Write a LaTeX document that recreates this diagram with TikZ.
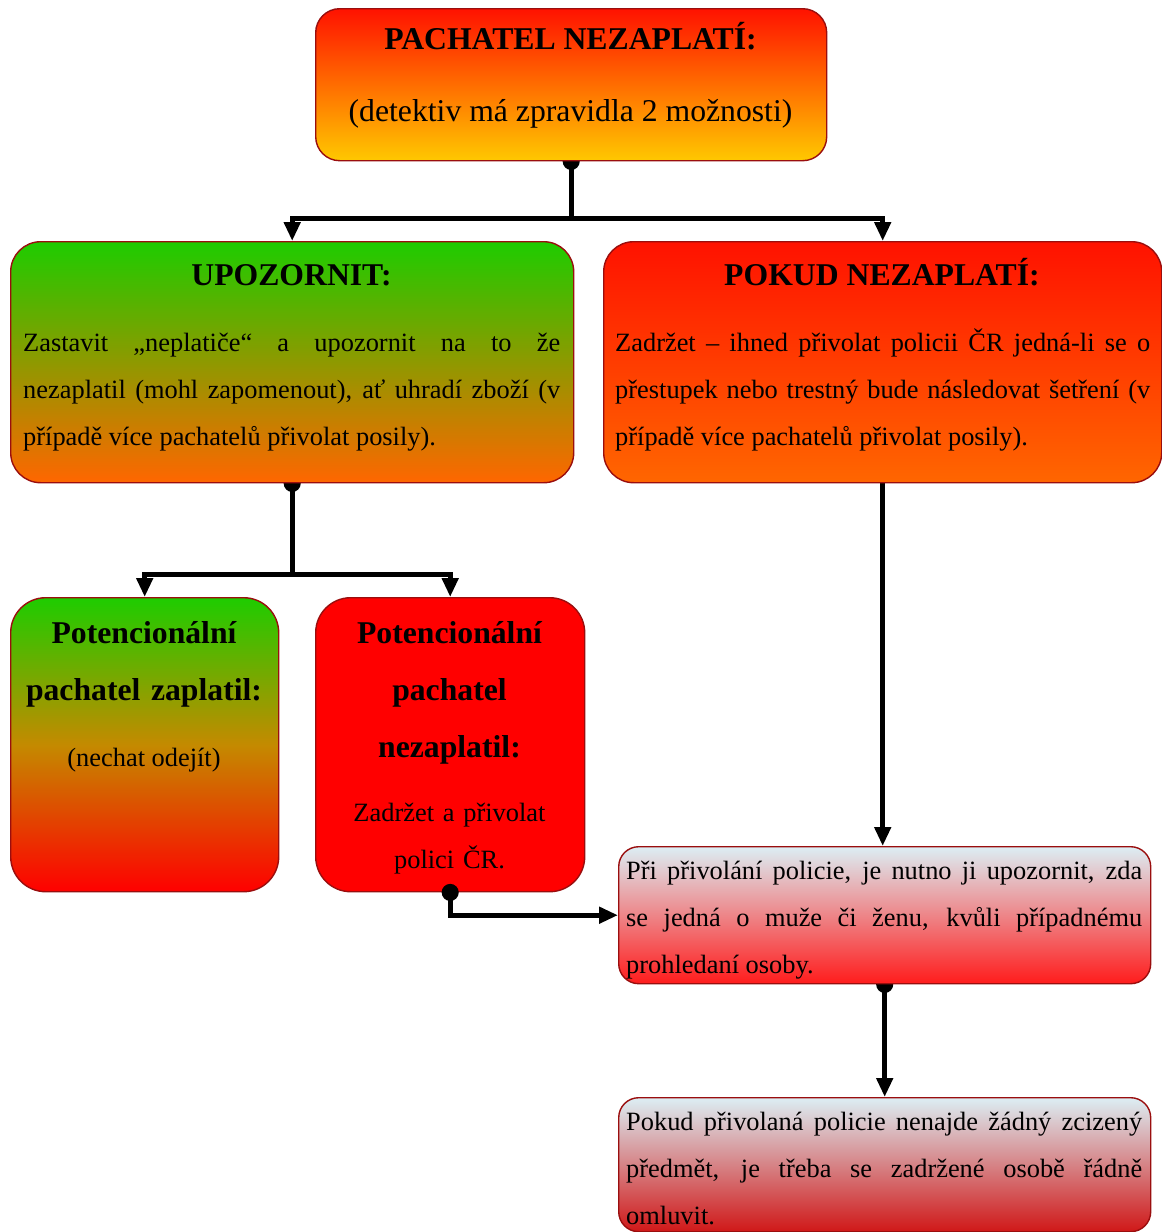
\documentclass[tikz,border=0pt]{standalone}
\usepackage{fontspec}
\setmainfont{Liberation Serif}
\usetikzlibrary{arrows.meta,calc}

\definecolor{boxline}{HTML}{9A0E0E}
\definecolor{hotred}{HTML}{FF1200}
\definecolor{amber}{HTML}{FFC800}
\definecolor{leaf}{HTML}{1ECC00}
\definecolor{tangerine}{HTML}{FF6600}
\definecolor{ochre}{HTML}{C48A00}
\definecolor{frost}{HTML}{DCEEF4}
\definecolor{alarm}{HTML}{FF1C1C}
\definecolor{darkalarm}{HTML}{D01818}

\pgfdeclarelayer{background}
\pgfsetlayers{background,main}

\tikzset{
  stepbox/.style={draw=boxline, line width=1.4pt, anchor=north west, inner sep=0pt},
  headtext/.style={font=\fontsize{31.7}{57}\selectfont\bfseries, inner sep=0pt, anchor=base, align=center},
  plaintext/.style={font=\fontsize{26.4}{47}\selectfont, inner sep=0pt},
  conn/.style={line width=5pt, arrows={-Triangle[width=16pt,length=19pt]}},
  dotconn/.style={line width=5pt, arrows={Circle[length=17pt]-Triangle[width=16pt,length=19pt]}, shorten <=-8.5pt},
}

\begin{document}
\begin{tikzpicture}[x=1pt, y=-1pt]
\useasboundingbox (0,0) rectangle (1162,1232);

% boxes
\node[stepbox, rounded corners=24pt, top color=hotred, bottom color=amber,
      minimum width=511pt, minimum height=152pt] (top) at (315,8) {};
\node[stepbox, rounded corners=30pt, top color=leaf, bottom color=tangerine,
      minimum width=563pt, minimum height=241pt] (upoz) at (10,241) {};
\node[stepbox, rounded corners=30pt, top color=hotred, bottom color=tangerine,
      minimum width=558pt, minimum height=241pt] (pokud) at (603,241) {};
\node[stepbox, rounded corners=35pt, top color=leaf, bottom color=red, middle color=ochre,
      minimum width=268pt, minimum height=294pt] (zapl) at (10,597) {};
\node[stepbox, rounded corners=35pt, fill=red,
      minimum width=269pt, minimum height=294pt] (nezapl) at (315,597) {};
\node[stepbox, rounded corners=20pt, top color=frost, bottom color=alarm,
      minimum width=532pt, minimum height=137pt] (pri) at (618,846) {};
\node[stepbox, rounded corners=20pt, top color=frost, bottom color=darkalarm,
      minimum width=532pt, minimum height=134pt] (omluva) at (618,1097) {};

% texts
\node[headtext] (tophead) at (570.5,49) {PACHATEL NEZAPLATÍ:};
\node[plaintext, font=\fontsize{31.7}{38}\selectfont, anchor=base] (topnote) at (570.5,121)
  {(detektiv má zpravidla 2 možnosti)};

\node[headtext] (upozhead) at (291.5,285) {UPOZORNIT:};
\node[plaintext, text width=537pt, align=justify, anchor=base west] (upoztext) at (23,351)
  {Zastavit „neplatiče“ a upozornit na to že\linebreak
   nezaplatil (mohl zapomenout), ať uhradí zboží (v\linebreak
   případě více pachatelů přivolat posily).};

\node[headtext] (pokudhead) at (882,285) {POKUD NEZAPLATÍ:};
\node[plaintext, text width=535pt, align=justify, anchor=base west] (pokudtext) at (615,351)
  {Zadržet – ihned přivolat policii ČR jedná-li se o\linebreak
   přestupek nebo trestný bude následovat šetření (v\linebreak
   případě více pachatelů přivolat posily).};

\node[headtext, text width=250pt] (zaplhead) at (144,643) {Potencionální\\pachatel zaplatil:};
\node[plaintext, anchor=base] (zapltext) at (144,766) {(nechat odejít)};

\node[headtext, text width=250pt] (nezaplhead) at (449.5,643) {Potencionální\\pachatel\\nezaplatil:};
\node[plaintext, text width=250pt, align=center, anchor=base] (nezapltext) at (449.5,821)
  {Zadržet a přivolat\\polici ČR.};

\node[plaintext, text width=516pt, align=justify, anchor=base west] (pritext) at (626,879)
  {Při přivolání policie, je nutno ji upozornit, zda\linebreak
   se jedná o muže či ženu, kvůli případnému\linebreak
   prohledaní osoby.};

\node[plaintext, text width=516pt, align=justify, anchor=base west] (omluvatext) at (626,1130)
  {Pokud přivolaná policie nenajde žádný zcizený\linebreak
   předmět, je třeba se zadržené osobě řádně\linebreak
   omluvit.};

% connectors
\begin{pgfonlayer}{background}
\draw[dotconn] (top.south) -- ++(0,57) coordinate (split1) -| (upoz.north);
\draw[conn] (split1) -| (pokud.north);
\draw[dotconn] (upoz.south) -- ++(0,91) coordinate (split2) -| (zapl.north);
\draw[conn] (split2) -| (nezapl.north);
\draw[conn] (pokud.south) -- (pokud.south |- pri.north);
\draw[dotconn] (pri.south) -- (omluva.north);
\end{pgfonlayer}
\draw[dotconn] (nezapl.south) |- (pri.west);
\end{tikzpicture}
\end{document}
